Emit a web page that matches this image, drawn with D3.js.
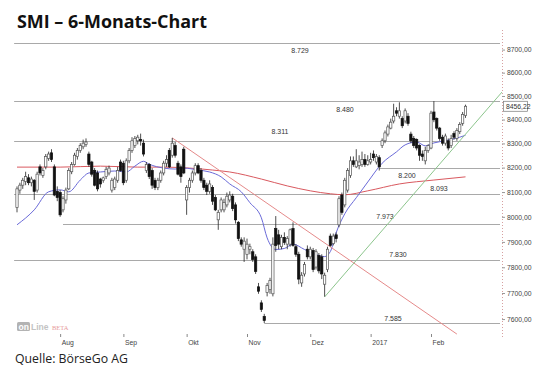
<!DOCTYPE html>
<html><head><meta charset="utf-8">
<script src="https://cdn.jsdelivr.net/npm/d3@7/dist/d3.min.js"></script>
<style>html,body{margin:0;padding:0;background:#fff;}svg{display:block;}</style>
</head><body>
<svg id="c" width="540" height="385"></svg>
<script>
// ---------- data ----------
const openV = [8038,8108,8128,8143,8158,8138,8148,8108,8203,8168,8203,8238,8261,8203,8103,8098,8028,8068,8113,8183,
8213,8246,8271,8286,8296,8256,8223,8188,8178,8153,8148,8163,8178,8108,8118,8148,8223,8218,8148,8228,
8271,8291,8311,8316,8301,8188,8213,8188,8148,8118,8148,8178,8218,8271,8251,8291,8218,8203,8276,8068,
8118,8148,8178,8208,8188,8148,8128,8103,8118,8078,7988,8028,8028,8048,8068,8083,8048,7978,7908,7871,
7851,7871,7861,7841,7724,7662,7610,7702,7714,7697,7953,7928,7881,7918,7891,7891,7953,7881,7851,7739,
7774,7871,7841,7866,7801,7846,7841,7734,7791,7923,7893,7928,7968,8088,8048,8108,8168,8228,8203,8208,
8213,8233,8213,8223,8256,8223,8241,8291,8311,8339,8364,8394,8437,8414,8404,8394,8414,8339,8321,8316,
8291,8256,8228,8271,8281,8432,8404,8364,8326,8301,8311,8291,8341,8321,8349,8384,8417];
const highV = [8123,8138,8158,8183,8173,8163,8153,8183,8213,8198,8256,8266,8276,8213,8123,8108,8083,8118,8198,8223,
8261,8281,8301,8316,8321,8266,8228,8198,8188,8158,8163,8203,8208,8158,8163,8203,8233,8228,8238,8281,
8326,8331,8336,8341,8316,8223,8218,8198,8158,8158,8188,8228,8251,8281,8323,8306,8228,8213,8286,8128,
8158,8188,8218,8218,8198,8158,8138,8148,8128,8088,8028,8078,8073,8098,8103,8093,8058,7983,7918,7918,
7913,7893,7871,7851,7739,7672,7620,7739,7759,7918,8003,7948,7928,7938,7923,7953,7978,7891,7861,7781,
7821,7886,7881,7876,7871,7856,7851,7779,7881,7933,7933,7938,8083,8098,8158,8198,8246,8246,8276,8251,
8266,8256,8251,8261,8271,8256,8251,8321,8354,8379,8404,8467,8452,8473,8414,8447,8427,8349,8331,8321,
8296,8271,8286,8296,8437,8478,8409,8369,8336,8341,8321,8336,8351,8364,8389,8432,8463];
const lowV = [8018,8093,8113,8128,8128,8123,8068,8098,8168,8158,8193,8228,8223,8083,8063,8000,8018,8053,8108,8173,
8208,8233,8261,8276,8286,8203,8163,8123,8103,8118,8138,8153,8168,8098,8108,8138,8183,8128,8138,8218,
8261,8281,8296,8291,8246,8178,8153,8113,8108,8108,8138,8168,8203,8198,8241,8241,8168,8138,8173,8008,
8098,8138,8168,8173,8138,8108,8088,8093,8048,8023,7948,8018,8018,8038,8058,8023,7973,7903,7881,7821,
7831,7851,7821,7774,7697,7627,7585,7687,7697,7687,7861,7871,7871,7888,7871,7881,7881,7841,7734,7724,
7764,7831,7831,7781,7791,7776,7754,7686,7781,7881,7886,7898,7958,8008,8038,8098,8158,8203,8198,8193,
8203,8203,8208,8213,8228,8213,8188,8281,8301,8329,8359,8384,8414,8404,8364,8384,8374,8301,8281,8271,
8228,8228,8213,8261,8276,8389,8354,8311,8291,8291,8271,8281,8316,8311,8339,8374,8407];
const closeV = [8113,8128,8148,8163,8138,8153,8103,8173,8178,8188,8246,8256,8233,8088,8078,8008,8073,8108,8188,8213,
8251,8271,8291,8301,8306,8213,8173,8128,8113,8133,8158,8193,8198,8148,8153,8188,8188,8138,8228,8271,
8311,8321,8326,8311,8256,8213,8163,8128,8118,8148,8178,8218,8233,8203,8301,8251,8173,8163,8178,8118,
8148,8178,8208,8178,8148,8118,8103,8133,8063,8028,8018,8068,8058,8083,8088,8033,7988,7913,7891,7903,
7891,7881,7831,7784,7707,7637,7595,7729,7749,7891,7886,7891,7918,7898,7913,7948,7886,7851,7754,7769,
7811,7841,7871,7791,7861,7786,7774,7769,7871,7886,7923,7913,8073,8018,8148,8188,8228,8213,8228,8223,
8233,8213,8228,8233,8241,8246,8203,8311,8344,8369,8389,8414,8427,8437,8374,8437,8384,8311,8291,8281,
8251,8246,8271,8291,8427,8399,8364,8321,8301,8331,8281,8321,8326,8354,8379,8422,8456.22];

// month ticks (trading-day index of first session) and labels
const monthTickIdx = [15, 37, 59, 80, 102, 123, 144];
const monthLabels  = ["Aug", "Sep", "Okt", "Nov", "Dez", "2017", "Feb"];
const yTickValues  = [7600, 7700, 7800, 7900, 8000, 8100, 8200, 8300, 8400, 8500, 8600, 8700];

// moving averages (index, value)
const maShortIdx = [0,6,11,15,18,22,25,29,34,38,41,44,46,51,55,58,63,67,71,74,78,81,85,87,90,93,96,100,104,107,109,111,114,118,122,127,132,135,139,142,145,150,154,156];
const maShortVal = [7968,8028,8101,8109,8101,8149,8178,8182,8186,8182,8206,8226,8214,8198,8194,8198,8190,8182,8162,8133,8101,8057,7996,7916,7870,7874,7891,7870,7850,7842,7862,7936,8012,8077,8141,8218,8265,8294,8306,8290,8302,8314,8326,8334];
const maLongIdx = [0,15,29,42,51,60,68,74,85,94,102,109,114,122,133,145,156];
const maLongVal = [8202,8202,8206,8202,8202,8198,8190,8182,8153,8125,8105,8093,8089,8105,8133,8149,8162];

// horizontal support / resistance levels
const levelValues   = [8729, 8480, 8311, 8200, 8093, 7973, 7830, 7585];
const levelLabels   = ["8.729", "8.480", "8.311", "8.200", "8.093", "7.973", "7.830", "7.585"];
const levelStartIdx = [-1, -1, -1, 126, -1, 16, -1, 86];

// trend lines (index, value) anchor points
const downTrendIdx = [54, 153], downTrendVal = [8323, 7543];
const upTrendIdx   = [107, 169], upTrendVal  = [7685, 8521];

const lastValueLabel = "8456,22";

// ---------- layout ----------
const levelLabelX  = [300, 345, 280, 407, 439, 385, 398, 393];
const levelLabelDy = [8, 9, -9, 8, -5, -7, -5, -5];
const plotRightX = 502;

const svg = d3.select("#c");
const x = d3.scaleLinear().domain([0, 156]).range([17, 465.5]);
const y = d3.scaleLog().domain([7539.5, 8786]).range([335, 30]);
const endIdx = x.invert(plotRightX - 2);

// title & source
svg.append("text").attr("x", 17).attr("y", 28)
  .attr("font-family", "'Open Sans', 'Noto Sans', sans-serif").attr("font-weight", 700)
  .attr("font-size", 18).attr("fill", "#111")
  .attr("textLength", 190).attr("lengthAdjust", "spacingAndGlyphs")
  .text("SMI – 6-Monats-Chart");
svg.append("text").attr("x", 15).attr("y", 363)
  .attr("font-family", "'Open Sans', 'Noto Sans', sans-serif").attr("font-weight", 400)
  .attr("font-size", 12.5).attr("fill", "#222")
  .attr("textLength", 113).attr("lengthAdjust", "spacingAndGlyphs")
  .text("Quelle: BörseGo AG");

const g = svg.append("g");

// level lines
levelValues.forEach((v, i) => {
  g.append("line")
    .attr("x1", x(levelStartIdx[i])).attr("x2", x(endIdx))
    .attr("y1", Math.round(y(v)) + 0.5).attr("y2", Math.round(y(v)) + 0.5)
    .attr("stroke", "#a9a9a9").attr("stroke-width", 1);
  g.append("text")
    .attr("x", levelLabelX[i]).attr("y", y(v) + levelLabelDy[i])
    .attr("text-anchor", "middle").attr("dominant-baseline", "central")
    .attr("font-family", "'Liberation Sans', Arial, sans-serif").attr("font-size", 7)
    .attr("fill", "#333").text(levelLabels[i]);
});

// clip for trendlines
svg.append("clipPath").attr("id", "clip").append("rect")
  .attr("x", 10).attr("y", 30).attr("width", plotRightX - 10).attr("height", 305);

// moving averages
const lineGen = d3.line().x(d => x(d[0])).y(d => y(d[1])).curve(d3.curveMonotoneX);
g.append("path").datum(maLongIdx.map((d, i) => [d, maLongVal[i]]))
  .attr("d", lineGen).attr("fill", "none").attr("stroke", "#d9595f").attr("stroke-width", 1);
g.append("path").datum(maShortIdx.map((d, i) => [d, maShortVal[i]]))
  .attr("d", lineGen).attr("fill", "none").attr("stroke", "#6a6ad8").attr("stroke-width", 1);

// trend lines
const straight = d3.line().x(d => x(d[0])).y(d => y(d[1]));
g.append("path").datum(downTrendIdx.map((d, i) => [d, downTrendVal[i]]))
  .attr("d", straight).attr("stroke", "#e58a8a").attr("stroke-width", 1).attr("fill", "none")
  .attr("clip-path", "url(#clip)");
g.append("path").datum(upTrendIdx.map((d, i) => [d, upTrendVal[i]]))
  .attr("d", straight).attr("stroke", "#8cc58c").attr("stroke-width", 1).attr("fill", "none")
  .attr("clip-path", "url(#clip)");

// candles
const bw = 2.3;
const candles = g.append("g");
closeV.forEach((c, i) => {
  const o = openV[i], up = c >= o;
  const cx = x(i);
  candles.append("line").attr("x1", cx).attr("x2", cx)
    .attr("y1", y(highV[i])).attr("y2", y(lowV[i]))
    .attr("stroke", "#222").attr("stroke-width", 0.8);
  const top = y(Math.max(o, c)), bot = y(Math.min(o, c));
  candles.append("rect").attr("x", cx - bw / 2).attr("y", top)
    .attr("width", bw).attr("height", Math.max(0.8, bot - top))
    .attr("fill", up ? "#fff" : "#111").attr("stroke", up ? "#555" : "#111").attr("stroke-width", 0.7);
});

// right axis (dotted)
svg.append("line").attr("x1", plotRightX + 0.5).attr("x2", plotRightX + 0.5)
  .attr("y1", 30).attr("y2", 338)
  .attr("stroke", "#d7a0a0").attr("stroke-width", 1).attr("stroke-dasharray", "1,2");
const yAxis = d3.axisRight(y).tickValues(yTickValues).tickSize(3)
  .tickFormat(d => d3.format(".2f")(d).replace(".", ","));
const ya = svg.append("g").attr("transform", `translate(${plotRightX},0)`).call(yAxis);
ya.select(".domain").remove();
ya.selectAll(".tick line").attr("stroke", "#999");
ya.selectAll(".tick text").attr("x", 5).attr("font-family", "'Liberation Sans', Arial, sans-serif")
  .attr("font-size", 6.8).attr("fill", "#444");

// last value box
const lastY = y(closeV[closeV.length - 1]);
svg.append("rect").attr("x", plotRightX + 1.5).attr("y", lastY - 5).attr("width", 24).attr("height", 10)
  .attr("fill", "#fff").attr("stroke", "#777").attr("stroke-width", 0.7);
svg.append("text").attr("x", plotRightX + 4).attr("y", lastY)
  .attr("dominant-baseline", "central").attr("font-family", "'Liberation Sans', Arial, sans-serif")
  .attr("font-size", 6.8).attr("fill", "#333").text(lastValueLabel);

// bottom axis (month ticks)
const xAxis = d3.axisBottom(x).tickValues(monthTickIdx).tickSize(3)
  .tickFormat((d, i) => monthLabels[i]);
const xa = svg.append("g").attr("transform", "translate(0,334)").call(xAxis);
xa.select(".domain").remove();
xa.selectAll(".tick line").attr("stroke", "#888");
xa.selectAll(".tick text").attr("text-anchor", "start").attr("x", 1).attr("y", 6)
  .attr("font-family", "'Liberation Sans', Arial, sans-serif").attr("font-size", 6.8).attr("fill", "#444");

// watermark
const wm = svg.append("g").attr("opacity", 0.75);
wm.append("rect").attr("x", 17).attr("y", 322).attr("width", 13).attr("height", 9).attr("rx", 1.5).attr("fill", "#9a9a9a");
wm.append("text").attr("x", 18.5).attr("y", 330).attr("font-family", "'Liberation Sans', Arial, sans-serif")
  .attr("font-weight", 700).attr("font-size", 8.5).attr("fill", "#fff").text("on");
wm.append("text").attr("x", 31).attr("y", 330).attr("font-family", "'Liberation Sans', Arial, sans-serif")
  .attr("font-weight", 700).attr("font-size", 8.5).attr("fill", "#b0b0b0").text("Line");
wm.append("text").attr("x", 52).attr("y", 330).attr("font-family", "'Liberation Serif', serif")
  .attr("font-size", 6.5).attr("fill", "#e07a7a").text("BETA");
</script>
</body></html>
